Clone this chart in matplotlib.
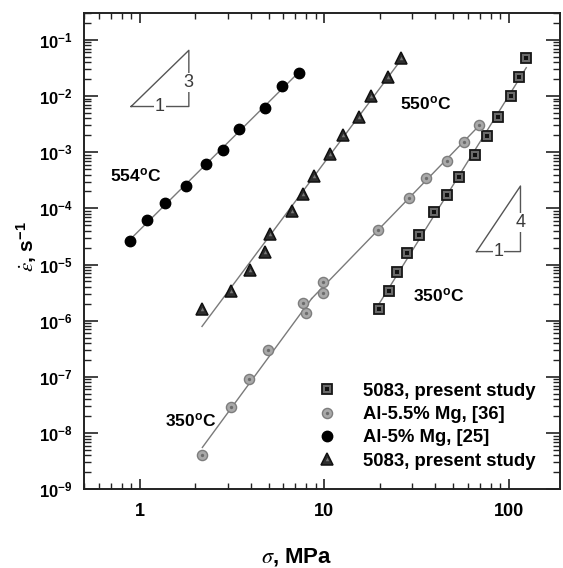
import numpy as np
import matplotlib
matplotlib.use("Agg")
import matplotlib.pyplot as plt
from matplotlib.ticker import LogLocator, NullFormatter

plt.rcParams['font.family'] = ['Liberation Sans', 'DejaVu Sans']
plt.rcParams['mathtext.fontset'] = 'stix'

# 5083, present study, 350 C (squares)
sq_stress = [19.8, 22.6, 25.0, 28.0, 32.7, 39.4, 46.1, 54.2, 65.8, 76.7, 87.9, 102.5, 113.8, 124.7]
sq_rate = [1.6e-6, 3.4e-6, 7.5e-6, 1.6e-5, 3.35e-5, 8.6e-5, 1.73e-4, 3.65e-4, 8.8e-4,
           1.93e-3, 4.2e-3, 9.9e-3, 2.14e-2, 4.7e-2]

# Al-5.5% Mg [36], 350 C (gray circles)
gc_stress = [2.19, 3.13, 3.94, 4.96, 7.65, 7.98, 9.82, 9.82, 19.7, 29.0, 35.9, 46.1, 57.0, 69.4]
gc_rate = [4.0e-9, 2.95e-8, 9.2e-8, 2.97e-7, 2.09e-6, 1.36e-6, 3.15e-6, 4.9e-6, 4.1e-5,
           1.55e-4, 3.5e-4, 6.95e-4, 1.53e-3, 3.0e-3]

# Al-5% Mg [25], 554 C (black circles)
bc_stress = [0.89, 1.10, 1.38, 1.78, 2.28, 2.85, 3.48, 4.78, 5.93, 7.31]
bc_rate = [2.6e-5, 6.2e-5, 1.24e-4, 2.5e-4, 6.1e-4, 1.1e-3, 2.55e-3, 6.2e-3, 1.52e-2, 2.55e-2]

# 5083, present study, 550 C (triangles)
tr_stress = [2.18, 3.14, 3.98, 4.76, 5.11, 6.70, 7.69, 8.77, 10.8, 12.6, 15.4, 18.0, 22.1, 26.2]
tr_rate = [1.6e-6, 3.4e-6, 8.0e-6, 1.65e-5, 3.5e-5, 9.1e-5, 1.8e-4, 3.8e-4, 9.2e-4,
           2.0e-3, 4.2e-3, 1.01e-2, 2.2e-2, 4.8e-2]

legend_labels = ['5083, present study', 'Al-5.5% Mg, [36]', 'Al-5% Mg, [25]', '5083, present study']

# slope guide triangles
tri3_x = [0.9, 1.85]
tri3_y = [6.5e-3, 6.5e-2]
tri4_x = [67, 116]
tri4_y = [1.7e-5, 2.5e-4]

line_col = '#7a7a7a'


def fit_line(ax, xs, ys, x0, x1):
    p = np.polyfit(np.log10(xs), np.log10(ys), 1)
    xx = np.array([x0, x1])
    ax.plot(xx, 10 ** np.polyval(p, np.log10(xx)), '-', color=line_col, lw=1.0, zorder=1)
    return p


fig = plt.figure(figsize=(5.63, 5.68), dpi=100)
ax = fig.add_axes([0.1492, 0.1386, 0.8455, 0.8385])
ax.set_xscale('log')
ax.set_yscale('log')
ax.set_xlim(0.5, 190)
ax.set_ylim(1e-9, 0.3)

# fitted lines
fit_line(ax, sq_stress, sq_rate, min(sq_stress), max(sq_stress))
fit_line(ax, bc_stress, bc_rate, min(bc_stress), max(bc_stress))
fit_line(ax, tr_stress, tr_rate, min(tr_stress), max(tr_stress))
p_lo = np.polyfit(np.log10(gc_stress[:8]), np.log10(gc_rate[:8]), 1)
p_hi = np.polyfit(np.log10(gc_stress[6:]), np.log10(gc_rate[6:]), 1)
x_brk = 10 ** ((p_hi[1] - p_lo[1]) / (p_lo[0] - p_hi[0]))
fit_line(ax, gc_stress[:8], gc_rate[:8], min(gc_stress), x_brk)
fit_line(ax, gc_stress[6:], gc_rate[6:], x_brk, max(gc_stress))

# markers
sq, = ax.plot(sq_stress, sq_rate, 's', ms=7.0, mfc='#6a6a6a', mec='#161616', mew=1.3, zorder=3)
sq_d, = ax.plot(sq_stress, sq_rate, 's', ms=2.2, mfc='#111111', mec='#111111', mew=0, zorder=4)
gc, = ax.plot(gc_stress, gc_rate, 'o', ms=7.3, mfc='#a9a9a9', mec='#7d7d7d', mew=1.0, zorder=3)
gc_d, = ax.plot(gc_stress, gc_rate, 'o', ms=2.4, mfc='#6c6c6c', mec='#6c6c6c', mew=0, zorder=4)
bc, = ax.plot(bc_stress, bc_rate, 'o', ms=7.5, mfc='black', mec='black', zorder=3)
tr, = ax.plot(tr_stress, tr_rate, '^', ms=8.5, mfc='#2e2e2e', mec='#111111', mew=1.1, zorder=3)
tr_d, = ax.plot(tr_stress, tr_rate, '^', ms=2.5, mfc='#777777', mec='#777777', mew=0, zorder=4)

# slope triangles
for tx, ty, lab in [(tri3_x, tri3_y, '3'), (tri4_x, tri4_y, '4')]:
    ax.plot([tx[0], tx[1], tx[1], tx[0]], [ty[0], ty[0], ty[1], ty[0]],
            '-', color='#555555', lw=1.0, zorder=2)
    xm = np.sqrt(tx[0] * tx[1])
    ym = np.sqrt(ty[0] * ty[1])
    ax.text(xm, ty[0], '1', ha='center', va='center', fontsize=13, color='#3a3a3a',
            bbox=dict(boxstyle='square,pad=0.05', fc='white', ec='none'), zorder=3)
    ax.text(tx[1], ym * 0.85, lab, ha='center', va='center', fontsize=13, color='#3a3a3a',
            bbox=dict(boxstyle='square,pad=0.05', fc='white', ec='none'), zorder=3)

# temperature labels
tkw = dict(fontsize=12.5, fontweight='bold', va='center', ha='left')
ax.text(0.69, 3.76e-4, '554$^{\\mathdefault{o}}$C', **tkw)
ax.text(25.7, 7.2e-3, '550$^{\\mathdefault{o}}$C', **tkw)
ax.text(30.3, 2.75e-6, '350$^{\\mathdefault{o}}$C', **tkw)
ax.text(1.37, 1.6e-8, '350$^{\\mathdefault{o}}$C', **tkw)

# axes styling
for s in ax.spines.values():
    s.set_linewidth(1.4)
    s.set_color('#222222')
ax.xaxis.set_minor_locator(LogLocator(base=10, subs=np.arange(2, 10)))
ax.yaxis.set_major_locator(LogLocator(base=10, numticks=20))
ax.yaxis.set_minor_locator(LogLocator(base=10, subs=np.arange(2, 10), numticks=20))
ax.xaxis.set_minor_formatter(NullFormatter())
ax.yaxis.set_minor_formatter(NullFormatter())
ax.set_xticks([1, 10, 100])
ax.set_xticklabels(['1', '10', '100'])
ax.tick_params(axis='x', which='major', direction='in', top=True, length=7, width=1.2, pad=10,
               labelsize=13, color='#222222')
ax.tick_params(axis='x', which='minor', direction='in', top=True, length=4, width=1.0, color='#222222')
ax.tick_params(axis='y', which='major', direction='in', right=True, length=10, width=1.2, pad=8,
               labelsize=12, color='#222222')
ax.tick_params(axis='y', which='minor', direction='in', right=True, length=5, width=1.0, color='#222222')
for lbl in ax.get_xticklabels() + ax.get_yticklabels():
    lbl.set_fontweight('bold')

ax.set_xlabel('$\\sigma$, MPa', fontsize=16, fontweight='bold')
ax.xaxis.set_label_coords(0.447, -0.12)
ax.set_ylabel('$\\dot{\\varepsilon}$, s$^{\\mathdefault{-1}}$', fontsize=15, fontweight='bold')
ax.yaxis.set_label_coords(-0.095, 0.51)

h_sq = (sq, sq_d)
h_gc = (gc, gc_d)
h_tr = (tr, tr_d)
leg = ax.legend([h_sq, h_gc, bc, h_tr], legend_labels, loc='upper left',
                bbox_to_anchor=(0.491, 0.2236), frameon=False, borderpad=0, borderaxespad=0,
                handlelength=1.0, handletextpad=1.45, labelspacing=0.34,
                prop={'weight': 'bold', 'size': 13.3})

fig.savefig('out.png', dpi=100)
